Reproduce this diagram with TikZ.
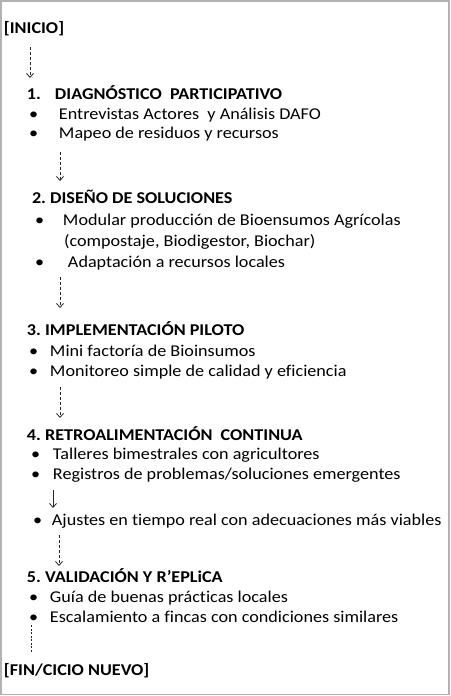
\documentclass[tikz,border=0pt]{standalone}
\usepackage{fontspec}
\setmainfont{Carlito}[Ligatures=NoCommon,FakeStretch=1.1]
\usetikzlibrary{arrows.meta}
\frenchspacing
\newcommand\blt[2]{\makebox[#1pt][l]{•}#2}
\begin{document}
\begin{tikzpicture}[x=1pt,y=-1pt,
  txt/.style={anchor=base west,inner sep=0pt,outer sep=0pt,font=\fontsize{16.5}{19}\selectfont,text=black},
  head/.style={txt,font=\fontsize{16.5}{19}\selectfont\bfseries},
  flow/.style={draw=black!85,line width=0.9pt,dash pattern=on 3pt off 2pt,-{Straight Barb[length=4pt,width=7pt,line width=0.8pt]}},
  solidflow/.style={draw=black!85,line width=0.8pt,-{Straight Barb[length=4pt,width=7pt,line width=0.8pt]}},
  dotline/.style={draw=black!85,line width=0.9pt,dash pattern=on 2pt off 1.5pt}]
\useasboundingbox (0,0) rectangle (450,696);
\draw[black!30,line width=1.5pt] (1,1) rectangle (449,694.5);
% texts
\node[head] (inicio) at (4,33.5) {[INICIO]};
\node[head] (t1) at (27,99) {\makebox[28pt][l]{1.}DIAGNÓSTICO\ \ PARTICIPATIVO};
\node[txt] (b11) at (29,119) {\blt{30}{Entrevistas Actores\ \ y Análisis DAFO}};
\node[txt] (b12) at (29,138) {\blt{30}{Mapeo de residuos y recursos}};
\node[head] (t2) at (32,203) {2. DISEÑO DE SOLUCIONES};
\node[txt] (b21) at (35,225) {\blt{28}{Modular producción de Bioensumos Agrícolas}};
\node[txt] (b21b) at (64,246) {(compostaje, Biodigestor, Biochar)};
\node[txt] (b22) at (35,267) {\blt{33}{Adaptación a recursos locales}};
\node[head] (t3) at (27,335) {3. IMPLEMENTACIÓN PILOTO};
\node[txt] (b31) at (29,356) {\blt{21}{Mini factoría de Bioinsumos}};
\node[txt] (b32) at (29,376) {\blt{21}{Monitoreo simple de calidad y eficiencia}};
\node[head] (t4) at (27,440) {4. RETROALIMENTACIÓN\ \ CONTINUA};
\node[txt] (b41) at (31,459) {\blt{22}{Talleres bimestrales con agricultores}};
\node[txt] (b42) at (31,479) {\blt{22}{Registros de problemas/soluciones emergentes}};
\node[txt] (b43) at (33,525) {\blt{19}{Ajustes en tiempo real con adecuaciones más viables}};
\node[head] (t5) at (27,582) {5. VALIDACIÓN Y R’EPLiCA};
\node[txt] (b51) at (29,602) {\blt{21}{Guía de buenas prácticas locales}};
\node[txt] (b52) at (29,622) {\blt{21}{Escalamiento a fincas con condiciones similares}};
\node[head] (fin) at (4,675) {[FIN/CICIO NUEVO]};
% connector end points
\coordinate (a1s) at (30,47);  \coordinate (a1e) at (30,78);
\coordinate (a2s) at (60,152); \coordinate (a2e) at (60,181);
\coordinate (a3s) at (60,277); \coordinate (a3e) at (60,308);
\coordinate (a4s) at (60,387); \coordinate (a4e) at (60,418);
\coordinate (a5s) at (53,490); \coordinate (a5e) at (53,508);
\coordinate (a6s) at (59,535); \coordinate (a6e) at (59,566);
\coordinate (a7s) at (31,625); \coordinate (a7e) at (31,653);
\draw[flow] (a1s) -- (a1e);
\draw[flow] (a2s) -- (a2e);
\draw[flow] (a3s) -- (a3e);
\draw[flow] (a4s) -- (a4e);
\draw[solidflow] (a5s) -- (a5e);
\draw[flow] (a6s) -- (a6e);
\draw[dotline] (a7s) -- (a7e);
\end{tikzpicture}
\end{document}
